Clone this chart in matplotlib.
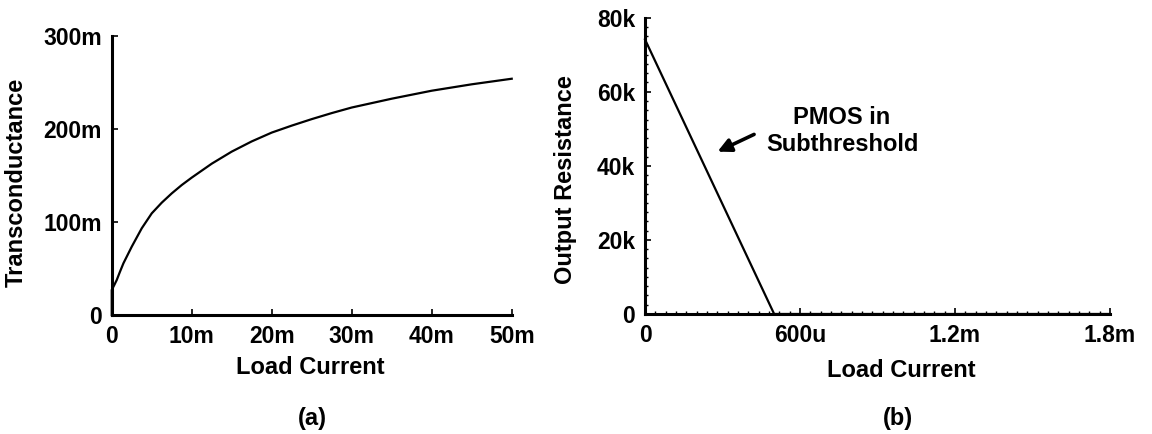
import numpy as np
import matplotlib
matplotlib.use('Agg')
import matplotlib.pyplot as plt
from matplotlib.ticker import MultipleLocator

plt.rcParams['font.family'] = ['Liberation Sans', 'DejaVu Sans']
plt.rcParams['font.weight'] = 'bold'
plt.rcParams['axes.labelweight'] = 'bold'

# (a) transconductance vs load current
load_a = [0, 0, 0.3e-3, 0.625e-3, 1.0e-3, 1.46e-3, 2.0e-3, 2.5e-3, 3.75e-3, 5.0e-3,
          6.25e-3, 7.5e-3, 8.75e-3, 10e-3, 12.5e-3, 15e-3, 17.5e-3, 20e-3, 22.5e-3,
          25e-3, 27.5e-3, 30e-3, 35e-3, 40e-3, 45e-3, 50e-3]
gm = [0, 27e-3, 32e-3, 37.7e-3, 46e-3, 55.7e-3, 65e-3, 73.6e-3, 93.4e-3, 109.5e-3,
      121e-3, 131e-3, 140e-3, 148e-3, 163e-3, 176e-3, 187e-3, 196.5e-3, 204e-3,
      211e-3, 217.5e-3, 223.5e-3, 233e-3, 241.6e-3, 248.5e-3, 254.5e-3]
xticks_a = [0, 10e-3, 20e-3, 30e-3, 40e-3, 50e-3]
xlabels_a = ['0', '10m', '20m', '30m', '40m', '50m']
yticks_a = [0, 100e-3, 200e-3, 300e-3]
ylabels_a = ['0', '100m', '200m', '300m']

# (b) output resistance vs load current
load_b = [0, 500e-6, 1.8e-3]
rout = [74.1e3, 0, 0]
xticks_b = [0, 600e-6, 1.2e-3, 1.8e-3]
xlabels_b = ['0', '600u', '1.2m', '1.8m']
yticks_b = [0, 20e3, 40e3, 60e3, 80e3]
ylabels_b = ['0', '20k', '40k', '60k', '80k']

fig = plt.figure(figsize=(11.52, 4.34), dpi=100)
ax1 = fig.add_axes([0.0970, 0.2742, 0.3472, 0.6417])
ax2 = fig.add_axes([0.5599, 0.2765, 0.4036, 0.6829])

for ax in (ax1, ax2):
    for s in ('top', 'right'):
        ax.spines[s].set_visible(False)
    for s in ('left', 'bottom'):
        ax.spines[s].set_linewidth(2.2)
    ax.tick_params(direction='in', length=4, width=1.2, labelsize=16.5, pad=7)
    ax.tick_params(which='minor', direction='in', length=2.5, width=1)

ax1.plot(load_a, gm, color='black', lw=1.6, clip_on=False)
ax1.set_xlim(0, 50e-3)
ax1.set_ylim(0, 300e-3)
ax1.set_xticks(xticks_a)
ax1.set_xticklabels(xlabels_a)
ax1.set_yticks(yticks_a)
ax1.set_yticklabels(ylabels_a)
ax1.set_xlabel('Load Current', fontsize=17, va='center')
ax1.xaxis.set_label_coords(0.496, -0.190)
ax1.set_ylabel('Transconductance', fontsize=17, va='center')
ax1.yaxis.set_label_coords(-0.238, 0.478)

ax2.plot(load_b, rout, color='black', lw=1.6, clip_on=False)
ax2.set_xlim(0, 1.8e-3)
ax2.set_ylim(0, 80e3)
ax2.set_xticks(xticks_b)
ax2.set_xticklabels(xlabels_b)
ax2.set_yticks(yticks_b)
ax2.set_yticklabels(ylabels_b)
ax2.xaxis.set_minor_locator(MultipleLocator(40e-6))
ax2.yaxis.set_minor_locator(MultipleLocator(2.5e3))
ax2.set_xlabel('Load Current', fontsize=17, va='center')
ax2.xaxis.set_label_coords(0.551, -0.189)
ax2.set_ylabel('Output Resistance', fontsize=17, va='center')
ax2.yaxis.set_label_coords(-0.172, 0.452)

ax2.annotate('', xy=(0.271e-3, 43.5e3), xytext=(0.432e-3, 48.8e3),
             arrowprops=dict(arrowstyle='-|>', color='black', lw=2.6,
                             mutation_scale=20))
ax2.text(0.763e-3, 49.4e3, 'PMOS in\nSubthreshold', fontsize=17,
         ha='center', va='center', multialignment='center', linespacing=1.25)

fig.text(0.2708, 0.0346, '(a)', fontsize=17, ha='center', va='center')
fig.text(0.7795, 0.0346, '(b)', fontsize=17, ha='center', va='center')

fig.savefig('out.png', dpi=100, facecolor='white')
